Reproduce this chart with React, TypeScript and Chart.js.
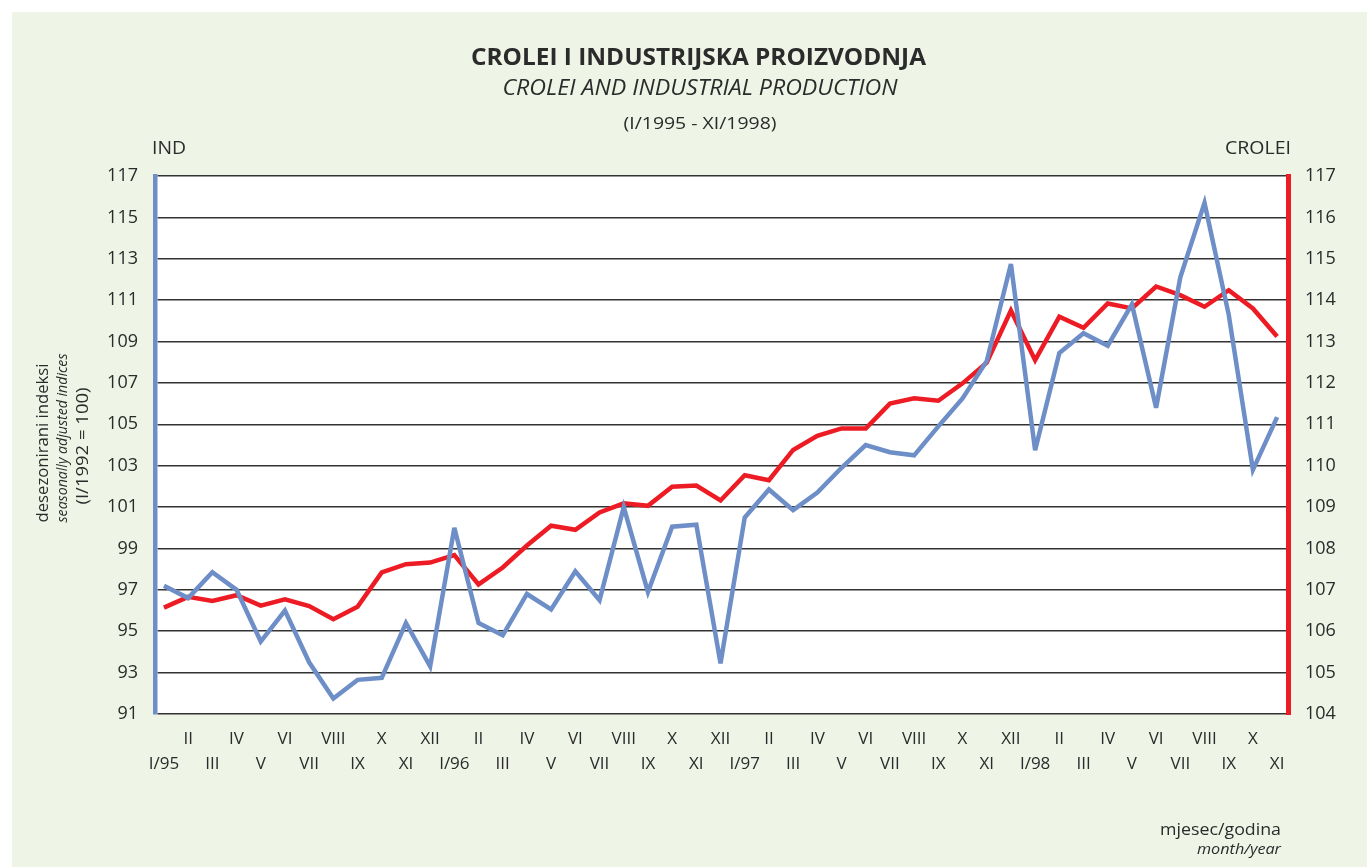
import React, { useEffect, useRef } from "react";
import { Chart, registerables } from "chart.js";

Chart.register(...registerables);

const monthLabels: string[] = [
  "I/95", "II", "III", "IV", "V", "VI", "VII", "VIII", "IX", "X", "XI", "XII",
  "I/96", "II", "III", "IV", "V", "VI", "VII", "VIII", "IX", "X", "XI", "XII",
  "I/97", "II", "III", "IV", "V", "VI", "VII", "VIII", "IX", "X", "XI", "XII",
  "I/98", "II", "III", "IV", "V", "VI", "VII", "VIII", "IX", "X", "XI",
];

const indValues: number[] = [
  97.2, 96.6, 97.85, 97.0, 94.5, 96.0, 93.5, 91.75, 92.65, 92.75, 95.4, 93.3,
  100.0, 95.4, 94.8, 96.8, 96.05, 97.9, 96.5, 101.0, 96.9, 100.05, 100.15, 93.45,
  100.5, 101.85, 100.85, 101.7, 102.9, 104.0, 103.65, 103.5, 104.9, 106.25, 108.05, 112.75,
  103.75, 108.45, 109.4, 108.8, 110.8, 105.8, 112.1, 115.7, 110.3, 102.8, 105.35,
];

const croleiValues: number[] = [
  106.57, 106.83, 106.73, 106.87, 106.62, 106.77, 106.61, 106.29, 106.59, 107.42, 107.62, 107.66,
  107.84, 107.13, 107.54, 108.07, 108.55, 108.45, 108.87, 109.09, 109.03, 109.49, 109.52, 109.16,
  109.77, 109.65, 110.38, 110.72, 110.9, 110.9, 111.5, 111.63, 111.57, 111.99, 112.49, 113.75,
  112.55, 113.6, 113.33, 113.92, 113.8, 114.33, 114.12, 113.84, 114.24, 113.8, 113.12,
];

const titleText = "CROLEI I INDUSTRIJSKA PROIZVODNJA";
const subtitleText = "CROLEI AND INDUSTRIAL PRODUCTION";
const rangeText = "(I/1995 - XI/1998)";
const leftAxisName = "IND";
const rightAxisName = "CROLEI";
const yTitle1 = "desezonirani indeksi";
const yTitle2 = "seasonally adjusted indices";
const yTitle3 = "(I/1992 = 100)";
const xTitle1 = "mjesec/godina";
const xTitle2 = "month/year";

const W = 1367;
const H = 867;
const BG = "#eef4e6";
const BLUE = "#6e8ec8";
const RED = "#ed1c24";
const TEXT = "#2b2b2b";
const FONT = '"Open Sans", "DejaVu Sans", sans-serif';

function fitText(
  ctx: CanvasRenderingContext2D,
  s: string,
  x: number,
  y: number,
  font: string,
  align: CanvasTextAlign,
  target: number,
  rotate = false
) {
  ctx.save();
  ctx.font = font;
  ctx.fillStyle = TEXT;
  ctx.textBaseline = "middle";
  ctx.textAlign = align;
  const m = ctx.measureText(s).width;
  const r = target > 0 && m > 0 ? target / m : 1;
  ctx.translate(x, y);
  if (rotate) ctx.rotate(-Math.PI / 2);
  ctx.scale(r, 1);
  ctx.fillText(s, 0, 0);
  ctx.restore();
}

const decorPlugin = {
  id: "decor",
  beforeDraw(chart: any) {
    const ctx = chart.ctx as CanvasRenderingContext2D;
    const a = chart.chartArea;
    ctx.save();
    ctx.fillStyle = "#ffffff";
    ctx.fillRect(0, 0, W, H);
    ctx.fillStyle = BG;
    ctx.fillRect(12, 12, W - 12, H - 12);
    ctx.fillStyle = "#ffffff";
    ctx.fillRect(a.left, a.top, a.right - a.left, a.bottom - a.top);
    ctx.restore();
  },
  beforeDatasetsDraw(chart: any) {
    (chart.ctx as CanvasRenderingContext2D).miterLimit = 4;
  },
  afterDraw(chart: any) {
    const ctx = chart.ctx as CanvasRenderingContext2D;
    fitText(ctx, titleText, 698.5, 58.5, `bold 24px ${FONT}`, "center", 455);
    fitText(ctx, subtitleText, 700, 89.5, `italic 21px ${FONT}`, "center", 395);
    fitText(ctx, rangeText, 700, 124.5, `17px ${FONT}`, "center", 153);
    fitText(ctx, leftAxisName, 152, 149, `19px ${FONT}`, "left", 34);
    fitText(ctx, rightAxisName, 1291, 149, `19px ${FONT}`, "right", 66);
    fitText(ctx, yTitle1, 43, 443, `16.5px ${FONT}`, "center", 159, true);
    fitText(ctx, yTitle2, 63, 438, `italic 14px ${FONT}`, "center", 169, true);
    fitText(ctx, yTitle3, 83, 446, `16px ${FONT}`, "center", 117, true);
    fitText(ctx, xTitle1, 1281, 830, `16.5px ${FONT}`, "right", 121);
    fitText(ctx, xTitle2, 1281, 850, `italic 15px ${FONT}`, "right", 84);
  },
};

export default function App() {
  const ref = useRef<HTMLCanvasElement | null>(null);

  useEffect(() => {
    if (!ref.current) return;
    const chart = new Chart(ref.current, {
      type: "line",
      data: {
        datasets: [
          {
            label: "IND",
            data: indValues.map((v, i) => ({ x: i, y: v })),
            borderColor: BLUE,
            backgroundColor: BLUE,
            borderWidth: 4.5,
            pointRadius: 0,
            tension: 0,
            borderJoinStyle: "miter",
            yAxisID: "y",
          },
          {
            label: "CROLEI",
            data: croleiValues.map((v, i) => ({ x: i, y: v })),
            borderColor: RED,
            backgroundColor: RED,
            borderWidth: 4.5,
            pointRadius: 0,
            tension: 0,
            borderJoinStyle: "miter",
            yAxisID: "y1",
          },
        ],
      },
      options: {
        responsive: false,
        animation: false,
        devicePixelRatio: 1,
        layout: { padding: { top: 176, left: 0, right: 0, bottom: 0 } },
        plugins: {
          legend: { display: false },
          tooltip: { enabled: false },
          title: { display: false },
        },
        scales: {
          x: {
            type: "linear",
            min: -0.37,
            max: 46.45,
            grid: { display: false },
            border: { display: false },
            afterBuildTicks: (s: any) => {
              s.ticks = monthLabels.map((_, i) => ({ value: i }));
            },
            afterFit: (s: any) => {
              s.height = H - 714;
            },
            ticks: {
              autoSkip: false,
              maxRotation: 0,
              minRotation: 0,
              padding: 5,
              color: TEXT,
              font: { family: FONT, size: 17, lineHeight: 1.45 },
              callback: (value: any) => {
                const i = Math.round(Number(value));
                const lab = monthLabels[i] ?? "";
                return i % 2 === 0 ? ["", lab] : [lab, ""];
              },
            },
          },
          y: {
            type: "linear",
            position: "left",
            min: 91,
            max: 117,
            afterFit: (s: any) => {
              s.width = 155;
            },
            ticks: {
              stepSize: 2,
              padding: 17,
              color: TEXT,
              font: { family: FONT, size: 18 },
            },
            grid: { color: "#333333", lineWidth: 1.5, drawTicks: false },
            border: { color: BLUE, width: 4.5 },
          },
          y1: {
            type: "linear",
            position: "right",
            min: 104,
            max: 117,
            afterFit: (s: any) => {
              s.width = W - 1288;
            },
            ticks: {
              stepSize: 1,
              padding: 17,
              color: TEXT,
              font: { family: FONT, size: 18 },
            },
            grid: { display: false, drawTicks: false },
            border: { color: RED, width: 5 },
          },
        },
      },
      plugins: [decorPlugin],
    } as any);
    return () => chart.destroy();
  }, []);

  return (
    <div style={{ position: "absolute", left: 0, top: 0, width: W, height: H }}>
      <canvas ref={ref} width={W} height={H} style={{ display: "block", width: W, height: H }} />
    </div>
  );
}
